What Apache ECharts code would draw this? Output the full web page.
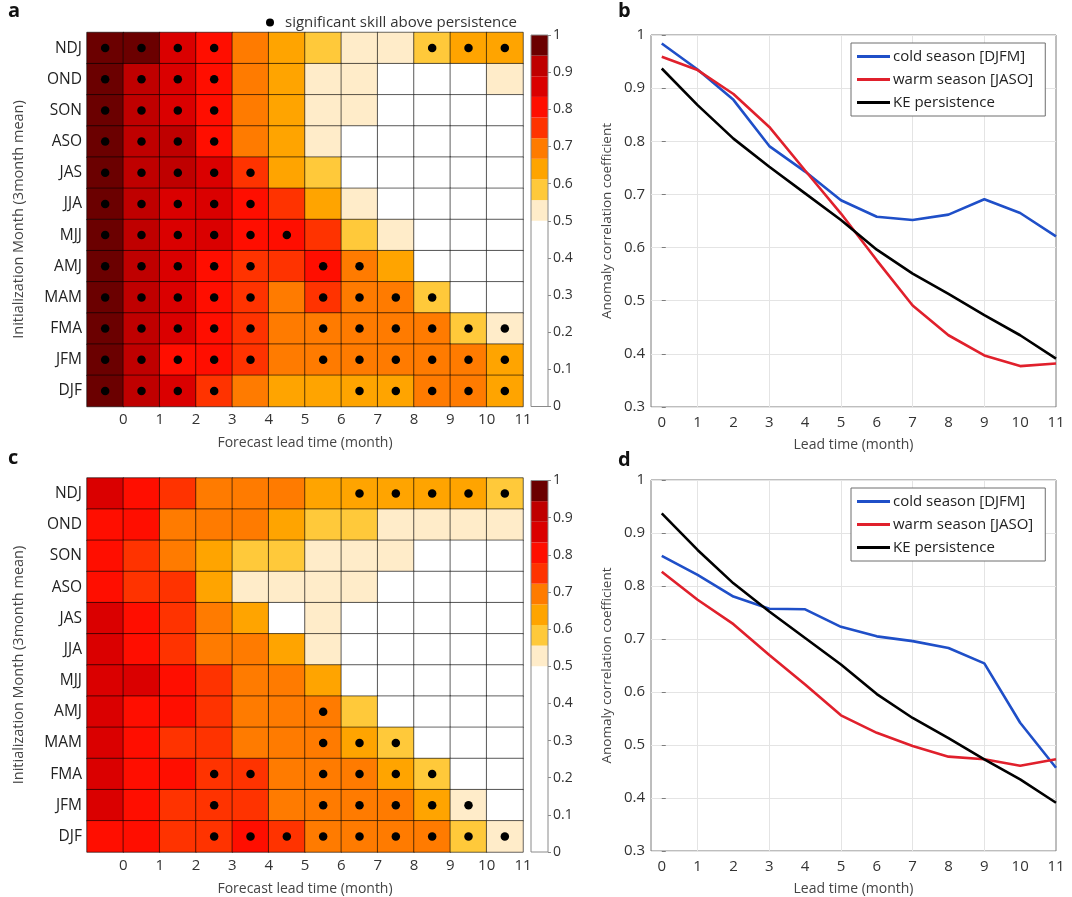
<!DOCTYPE html>
<html>
<head>
<meta charset="utf-8">
<script src="https://cdn.jsdelivr.net/npm/echarts@6/dist/echarts.min.js"></script>
<style>
  html, body { margin: 0; padding: 0; background: #fff; }
  #chart { width: 1072px; height: 897px; }
</style>
</head>
<body>
<div id="chart"></div>
<script>
// rows top to bottom, columns = forecast lead 0..11
const seasons = ['NDJ', 'OND', 'SON', 'ASO', 'JAS', 'JJA', 'MJJ', 'AMJ', 'MAM', 'FMA', 'JFM', 'DJF'];
const leads = ['0', '1', '2', '3', '4', '5', '6', '7', '8', '9', '10', '11'];
const leadMonths = [0, 1, 2, 3, 4, 5, 6, 7, 8, 9, 10, 11];

// panel a
const skillA = [
    [0.97, 0.96, 0.86, 0.81, 0.70, 0.64, 0.58, 0.53, 0.52, 0.59, 0.64, 0.63],
    [0.97, 0.92, 0.87, 0.81, 0.70, 0.64, 0.53, 0.52, 0.47, 0.46, 0.45, 0.51],
    [0.97, 0.92, 0.86, 0.80, 0.70, 0.64, 0.53, 0.51, 0.46, 0.44, 0.43, 0.42],
    [0.97, 0.92, 0.90, 0.81, 0.70, 0.63, 0.52, 0.47, 0.44, 0.42, 0.41, 0.40],
    [0.97, 0.91, 0.90, 0.86, 0.76, 0.64, 0.58, 0.47, 0.44, 0.42, 0.40, 0.39],
    [0.97, 0.91, 0.87, 0.86, 0.80, 0.75, 0.64, 0.53, 0.47, 0.44, 0.42, 0.40],
    [0.97, 0.91, 0.87, 0.86, 0.81, 0.80, 0.75, 0.58, 0.52, 0.47, 0.44, 0.42],
    [0.97, 0.91, 0.86, 0.81, 0.76, 0.75, 0.80, 0.69, 0.64, 0.48, 0.45, 0.43],
    [0.97, 0.91, 0.86, 0.81, 0.76, 0.70, 0.75, 0.70, 0.69, 0.59, 0.47, 0.45],
    [0.97, 0.91, 0.86, 0.81, 0.76, 0.70, 0.70, 0.70, 0.69, 0.68, 0.59, 0.53],
    [0.97, 0.91, 0.81, 0.80, 0.75, 0.70, 0.70, 0.70, 0.69, 0.69, 0.68, 0.64],
    [0.97, 0.91, 0.86, 0.75, 0.70, 0.64, 0.64, 0.64, 0.64, 0.68, 0.68, 0.64]
];
const signifA = [
    [0, 1, 2, 3, 9, 10, 11],
    [0, 1, 2, 3],
    [0, 1, 2, 3],
    [0, 1, 2, 3],
    [0, 1, 2, 3, 4],
    [0, 1, 2, 3, 4],
    [0, 1, 2, 3, 4, 5],
    [0, 1, 2, 3, 4, 6, 7],
    [0, 1, 2, 3, 4, 6, 7, 8, 9],
    [0, 1, 2, 3, 4, 6, 7, 8, 9, 10, 11],
    [0, 1, 2, 3, 4, 6, 7, 8, 9, 10, 11],
    [0, 1, 2, 3, 7, 8, 9, 10, 11]
];

// panel c
const skillC = [
    [0.86, 0.81, 0.75, 0.70, 0.70, 0.69, 0.64, 0.64, 0.64, 0.64, 0.63, 0.58],
    [0.81, 0.80, 0.70, 0.70, 0.69, 0.64, 0.58, 0.58, 0.53, 0.53, 0.52, 0.52],
    [0.80, 0.75, 0.70, 0.64, 0.58, 0.58, 0.53, 0.53, 0.52, 0.47, 0.46, 0.45],
    [0.80, 0.75, 0.75, 0.64, 0.53, 0.53, 0.52, 0.52, 0.48, 0.46, 0.45, 0.44],
    [0.86, 0.80, 0.75, 0.70, 0.64, 0.48, 0.52, 0.47, 0.45, 0.44, 0.43, 0.42],
    [0.86, 0.80, 0.75, 0.70, 0.69, 0.64, 0.52, 0.47, 0.45, 0.44, 0.42, 0.41],
    [0.86, 0.87, 0.80, 0.75, 0.70, 0.69, 0.64, 0.48, 0.46, 0.44, 0.42, 0.41],
    [0.86, 0.81, 0.80, 0.75, 0.70, 0.69, 0.69, 0.58, 0.48, 0.45, 0.43, 0.42],
    [0.86, 0.81, 0.75, 0.75, 0.70, 0.69, 0.69, 0.64, 0.58, 0.47, 0.45, 0.43],
    [0.86, 0.81, 0.80, 0.75, 0.76, 0.70, 0.69, 0.69, 0.64, 0.58, 0.47, 0.45],
    [0.86, 0.81, 0.76, 0.75, 0.75, 0.70, 0.69, 0.69, 0.68, 0.64, 0.53, 0.47],
    [0.81, 0.80, 0.76, 0.75, 0.80, 0.75, 0.70, 0.69, 0.69, 0.68, 0.58, 0.53]
];
const signifC = [
    [7, 8, 9, 10, 11],
    [], [], [], [], [], [],
    [6],
    [6, 7, 8],
    [3, 4, 6, 7, 8, 9],
    [3, 6, 7, 8, 9, 10],
    [3, 4, 5, 6, 7, 8, 9, 10, 11]
];

// panel b
const coldB = [0.984, 0.935, 0.878, 0.791, 0.743, 0.689, 0.658, 0.652, 0.662, 0.691, 0.665, 0.621];
const warmB = [0.959, 0.934, 0.889, 0.827, 0.745, 0.664, 0.576, 0.491, 0.435, 0.397, 0.377, 0.382];
// panel d
const coldD = [0.857, 0.821, 0.780, 0.757, 0.756, 0.723, 0.705, 0.696, 0.683, 0.654, 0.542, 0.457];
const warmD = [0.827, 0.774, 0.728, 0.670, 0.614, 0.556, 0.523, 0.498, 0.478, 0.473, 0.461, 0.473];
// same in both
const persistence = [0.937, 0.868, 0.805, 0.752, 0.702, 0.652, 0.596, 0.551, 0.513, 0.473, 0.435, 0.391];

// colour scale
const colorEdges = [0, 0.5, 0.5556, 0.6111, 0.6667, 0.7222, 0.7778, 0.8333, 0.8889, 0.9444, 1.0];
const bandColors = ['#ffffff', '#ffecc9', '#ffc93a', '#ffa400', '#ff7b00', '#ff3300', '#ff0e00', '#da0000', '#bf0000', '#6b0000'];

const gridX = [1, 3, 5, 7, 9];

const FONT = 'Open Sans';
const TXT = '#333';

const chart = echarts.init(document.getElementById('chart'));

function heatData(skill) {
    const out = [];
    skill.forEach((row, r) => row.forEach((v, c) => out.push([c, r, v])));
    return out;
}
function dotData(signif) {
    const out = [];
    signif.forEach((cols, r) => cols.forEach(c => out.push([c, r])));
    return out;
}

const heatPos = [{ top: 32.5 }, { top: 478 }];
const grids = [];
const xAxes = [];
const yAxes = [];
const series = [];
const heatSeriesIdx = [];

[[skillA, signifA], [skillC, signifC]].forEach(([skill, signif], p) => {
    const top = heatPos[p].top;
    // heatmap grid
    const gHeat = grids.length;
    grids.push({ left: 87, top: top, width: 436, height: 374 });
    const xCat = xAxes.length;
    xAxes.push({ gridIndex: gHeat, type: 'category', data: leads, show: false });
    xAxes.push({
        gridIndex: gHeat, type: 'value', min: -1, max: 11, interval: 1, position: 'bottom',
        axisLine: { show: false }, axisTick: { show: false }, splitLine: { show: false },
        axisLabel: { showMinLabel: false, fontSize: 15, color: TXT, fontFamily: FONT, margin: 6 },
        name: 'Forecast lead time (month)', nameLocation: 'middle', nameGap: 30,
        nameTextStyle: { fontSize: 14, color: '#444', fontFamily: FONT }
    });
    const yCat = yAxes.length;
    yAxes.push({
        gridIndex: gHeat, type: 'category', data: seasons, inverse: true,
        axisLine: { show: false }, axisTick: { show: false },
        axisLabel: { fontSize: 15.5, color: '#222', fontFamily: FONT, margin: 5 },
        name: 'Initialization Month (3month mean)', nameLocation: 'middle', nameGap: 61,
        nameTextStyle: { fontSize: 14.5, color: '#444', fontFamily: FONT }
    });
    heatSeriesIdx.push(series.length);
    series.push({
        type: 'heatmap', xAxisIndex: xCat, yAxisIndex: yCat,
        data: heatData(skill),
        itemStyle: { borderColor: 'rgba(0,0,0,0.75)', borderWidth: 0.8 },
        silent: true
    });
    series.push({
        name: 'significant skill above persistence',
        type: 'scatter', xAxisIndex: xCat, yAxisIndex: yCat,
        data: dotData(signif), symbolSize: 8.5,
        itemStyle: { color: '#000', opacity: 1 }, z: 5, silent: true
    });

    // colour bar
    const gCb = grids.length;
    grids.push({ left: 531, top: top + 2.5, width: 17, height: 371.5, show: true, borderColor: '#8a8a8a', borderWidth: 1, z: 10 });
    const xCb = xAxes.length;
    xAxes.push({ gridIndex: gCb, type: 'category', data: ['cb'], show: false });
    const yCb = yAxes.length;
    yAxes.push({
        gridIndex: gCb, type: 'value', min: 0, max: 1, interval: 0.1, position: 'right',
        axisLine: { show: false }, splitLine: { show: false },
        axisTick: { show: true, length: 3, lineStyle: { color: '#888' } },
        axisLabel: { fontSize: 14, color: TXT, fontFamily: FONT, margin: 5 }
    });
    for (let i = 0; i < bandColors.length; i++) {
        series.push({
            type: 'bar', xAxisIndex: xCb, yAxisIndex: yCb, stack: 'cb' + p,
            barWidth: '100%', silent: true,
            data: [colorEdges[i + 1] - colorEdges[i]],
            itemStyle: { color: bandColors[i] }
        });
    }
});

const linePos = [{ top: 35, cold: coldB, warm: warmB }, { top: 480, cold: coldD, warm: warmD }];
const legends = [{
    data: ['significant skill above persistence'], left: 261, top: 10,
    icon: 'circle', itemWidth: 8, itemHeight: 8, itemGap: 0,
    textStyle: { fontSize: 15, color: TXT, fontFamily: FONT, padding: [0, 0, 0, 6] }
}];

linePos.forEach((lp, p) => {
    const g = grids.length;
    grids.push({ left: 651, top: lp.top, width: 405, height: 372, show: true, borderColor: '#7d7d7d', borderWidth: 1 });
    const xi = xAxes.length;
    xAxes.push({
        gridIndex: g, type: 'value', min: -0.3, max: 11,
        axisLine: { show: false }, axisTick: { show: false }, splitLine: { show: false },
        axisLabel: { customValues: leadMonths, fontSize: 15, color: TXT, fontFamily: FONT, margin: 8 },
        name: 'Lead time (month)', nameLocation: 'middle', nameGap: 31,
        nameTextStyle: { fontSize: 14, color: '#444', fontFamily: FONT }
    });
    const yi = yAxes.length;
    yAxes.push({
        gridIndex: g, type: 'value', min: 0.3, max: 1, interval: 0.1,
        axisLine: { show: false },
        axisTick: { show: true, inside: true, length: 4, lineStyle: { color: '#7d7d7d' } },
        splitLine: { show: true, lineStyle: { color: '#e4e4e4', width: 1 } },
        axisLabel: { fontSize: 15, color: TXT, fontFamily: FONT, margin: 6 },
        name: 'Anomaly correlation coefficient', nameLocation: 'middle', nameGap: 37,
        nameTextStyle: { fontSize: 13.5, color: '#444', fontFamily: FONT }
    });
    const mk = (name, vals, color, withGrid) => {
        const s = {
            name: name, type: 'line', xAxisIndex: xi, yAxisIndex: yi,
            data: leadMonths.map((m, i) => [m, vals[i]]),
            showSymbol: false, symbol: 'none', color: color,
            lineStyle: { color: color, width: 2.6 }, silent: true
        };
        if (withGrid) {
            s.markLine = {
                silent: true, symbol: 'none', z: 1, animation: false,
                label: { show: false },
                lineStyle: { color: '#e4e4e4', width: 1, type: 'solid' },
                data: gridX.map(v => ({ xAxis: v }))
            };
        }
        return s;
    };
    series.push(mk('cold season [DJFM]', lp.cold, '#1f4fc8', true));
    series.push(mk('warm season [JASO]', lp.warm, '#e0202c', false));
    series.push(mk('KE persistence', persistence, '#000000', false));
    legends.push({
        data: ['cold season [DJFM]', 'warm season [JASO]', 'KE persistence'],
        orient: 'vertical', left: 851, top: lp.top + 8,
        icon: 'rect', itemWidth: 33, itemHeight: 3, itemGap: 4,
        padding: [4, 12, 4, 6],
        backgroundColor: '#fff', borderColor: '#6e6e6e', borderWidth: 1,
        textStyle: { fontSize: 15, color: '#222', fontFamily: FONT, padding: [0, 0, 0, -2], lineHeight: 19 }
    });
});

const letter = (t, x, y) => ({
    type: 'text', left: x, top: y,
    style: { text: t, fontSize: 20, fontWeight: 'bold', fontFamily: FONT, fill: '#111' }
});

const option = {
    animation: false,
    grid: grids,
    xAxis: xAxes,
    yAxis: yAxes,
    legend: legends,
    visualMap: {
        type: 'piecewise', show: false, dimension: 2, seriesIndex: heatSeriesIdx,
        pieces: bandColors.map((c, i) => (i === bandColors.length - 1
            ? { gte: colorEdges[i], lte: colorEdges[i + 1], color: c }
            : { gte: colorEdges[i], lt: colorEdges[i + 1], color: c }))
    },
    graphic: [
        letter('a', 8, 1),
        letter('b', 618, 1),
        letter('c', 8, 448),
        letter('d', 618, 450)
    ],
    series: series
};

chart.setOption(option);
</script>
</body>
</html>
